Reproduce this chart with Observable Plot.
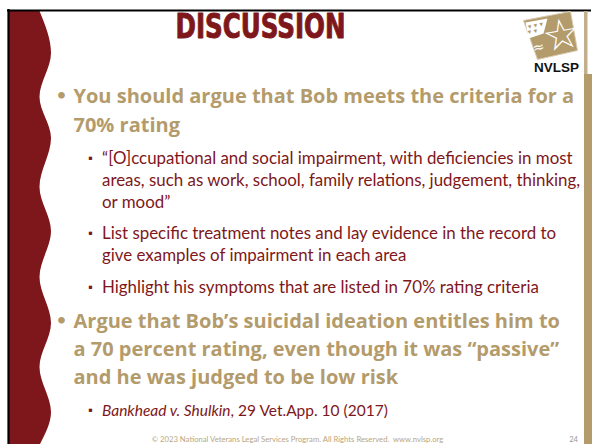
<!DOCTYPE html>
<html>
<head>
<meta charset="utf-8">
<script src="https://cdn.jsdelivr.net/npm/d3@7"></script>
<script src="https://cdn.jsdelivr.net/npm/@observablehq/plot@0.6"></script>
<style>
  html, body { margin: 0; padding: 0; background: #fff; }
  svg { display: block; }
</style>
</head>
<body>
<div id="chart"></div>
<script>
// ---- content ----
const titleText = "DISCUSSION";
const bullet1Lines = [
  "You should argue that Bob meets the criteria for a",
  "70% rating"
];
const sub1Lines = [
  "\u201C[O]ccupational and social impairment, with deficiencies in most",
  "areas, such as work, school, family relations, judgement, thinking,",
  "or mood\u201D"
];
const sub2Lines = [
  "List specific treatment notes and lay evidence in the record to",
  "give examples of impairment in each area"
];
const sub3Lines = [
  "Highlight his symptoms that are listed in 70% rating criteria"
];
const bullet2Lines = [
  "Argue that Bob\u2019s suicidal ideation entitles him to",
  "a 70 percent rating, even though it was \u201Cpassive\u201D",
  "and he was judged to be low risk"
];
const citeItalic = "Bankhead v. Shulkin";
const citeRest = ", 29 Vet.App. 10 (2017)";
const footerText = "\u00A9 2023 National Veterans Legal Services Program. All Rights Reserved.  www.nvlsp.org";
const pageNumber = "24";
const logoLabel = "NVLSP";

// ---- decorative shapes ----
const waveEdge = [[39.5,11],[51,53],[39.5,97],[51,138],[39.5,187],[51,231],[39.5,277],[51,323],[39.5,367],[51,412],[40,444]];
const logoCorners = [[523,20],[570,11],[577,50],[537,59],[523,20]];
const logoFlag = [[525,22],[547,18],[543,33],[528,38],[525,22]];

// ---- colours ----
const RED = "#7e171b";
const TAN = "#b39b6c";

// ---- layout of the text blocks ----
const blocks = [
  {lines: bullet1Lines, kind: "main", y0: 102, step: 29},
  {lines: sub1Lines, kind: "sub", y0: 163, step: 22},
  {lines: sub2Lines, kind: "sub", y0: 238, step: 22},
  {lines: sub3Lines, kind: "sub", y0: 292, step: 22},
  {lines: bullet2Lines, kind: "main", y0: 327, step: 28},
  {lines: [citeItalic + citeRest], kind: "cite", y0: 415, step: 22}
];
const rows = [];
const bullets = [];
for (const b of blocks) {
  b.lines.forEach((t, i) => rows.push({text: t, kind: b.kind, x: b.kind === "main" ? 73 : 101.5, y: b.y0 + i * b.step}));
  bullets.push({kind: b.kind, x: b.kind === "main" ? 61 : 90, y: b.y0});
}

const MAINFONT = "'Open Sans', Lato, sans-serif";
const SUBFONT = "Lato, 'Open Sans', sans-serif";

const plot = Plot.plot({
  width: 592,
  height: 444,
  margin: 0,
  x: {domain: [0, 592], range: [0, 592], axis: null},
  y: {domain: [0, 444], range: [0, 444], axis: null},
  style: {background: "#fff"},
  marks: [
    // left wavy band
    Plot.areaX(waveEdge, {y: d => d[1], x1: () => 9, x2: d => d[0], fill: RED, curve: "monotone-y"}),
    // frame lines
    Plot.ruleY([10], {x1: 7, x2: 591, stroke: "#000", strokeWidth: 2.2}),
    Plot.ruleX([8], {y1: 9, y2: 444, stroke: "#000", strokeWidth: 2.2}),
    // right bars
    Plot.rect([{x1: 584, x2: 587.5, y1: 11, y2: 74}], {x1: "x1", x2: "x2", y1: "y1", y2: "y2", fill: "#c2b08c"}),
    Plot.rect([{x1: 584, x2: 592, y1: 74, y2: 444}], {x1: "x1", x2: "x2", y1: "y1", y2: "y2", fill: TAN}),
    // logo
    Plot.line(logoCorners, {x: d => d[0], y: d => d[1], fill: TAN, stroke: "#d8cbb0", strokeWidth: 1}),
    Plot.line(logoFlag, {x: d => d[0], y: d => d[1], fill: "#fff", stroke: "none"}),
    Plot.text(["\u25BC\u25BC\u25BC"], {x: 535, y: 25, text: d => d, fontSize: 6, fill: TAN, rotate: -12}),
    Plot.text(["\u25BC\u25BC"], {x: 532, y: 31, text: d => d, fontSize: 6, fill: TAN, rotate: -12}),
    Plot.text(["\u2606"], {x: 561, y: 35, text: d => d, fontSize: 42, fill: "#fff", fontFamily: "DejaVu Sans", rotate: -10}),
    Plot.text(["\u2248"], {x: 538, y: 47, text: d => d, fontSize: 14, fill: "#fff", fontFamily: "DejaVu Sans", rotate: -12}),
    Plot.text([logoLabel], {x: 556, y: 71, text: d => d, fontSize: 13.5, fontWeight: "bold", fill: "#111", fontFamily: "'Liberation Sans', Arial, sans-serif", lineAnchor: "bottom"}),
    // title
    Plot.text([titleText], {x: 260, y: 37.5, text: d => d, className: "slide-title", fontSize: 33.5, fontWeight: "bold", fill: RED, stroke: RED, strokeWidth: 0.9, fontFamily: "'Liberation Sans Narrow', 'DejaVu Sans Condensed', 'DejaVu Sans', sans-serif", lineAnchor: "bottom"}),
    // bullets
    Plot.text(bullets.filter(d => d.kind === "main"), {x: "x", y: "y", text: () => "\u2022", fontSize: 18, fill: TAN, fontFamily: SUBFONT, lineAnchor: "bottom", dy: -2}),
    Plot.text(bullets.filter(d => d.kind !== "main"), {x: "x", y: "y", text: () => "\u25AA", fontSize: 6.5, fill: RED, fontFamily: "DejaVu Sans", lineAnchor: "bottom", dy: -4}),
    // body text
    Plot.text(rows.filter(d => d.kind === "main"), {x: "x", y: "y", text: "text", textAnchor: "start", lineAnchor: "bottom", fontSize: 20, fontWeight: "bold", fill: TAN, fontFamily: MAINFONT}),
    Plot.text(rows.filter(d => d.kind === "sub"), {x: "x", y: "y", text: "text", textAnchor: "start", lineAnchor: "bottom", fontSize: 16.9, fill: RED, fontFamily: SUBFONT}),
    Plot.text(rows.filter(d => d.kind === "cite"), {x: "x", y: "y", text: "text", className: "cite", textAnchor: "start", lineAnchor: "bottom", fontSize: 15.5, fill: RED, fontFamily: SUBFONT}),
    // footer
    Plot.text([footerText], {x: 297, y: 441, text: d => d, fontSize: 7.7, fill: "#b8a680", fontFamily: SUBFONT, lineAnchor: "bottom"}),
    Plot.text([pageNumber], {x: 573, y: 441, text: d => d, fontSize: 7.5, fill: "#999", fontFamily: SUBFONT, lineAnchor: "bottom"})
  ]
});

// title: stretch to the width it has in the reference
d3.select(plot).selectAll(".slide-title text")
  .attr("textLength", 170)
  .attr("lengthAdjust", "spacingAndGlyphs");
// citation: italic case name followed by the reporter reference
d3.select(plot).selectAll(".cite text").each(function () {
  const t = d3.select(this);
  t.text(null);
  t.append("tspan").attr("font-style", "italic").text(citeItalic);
  t.append("tspan").text(citeRest);
});

document.getElementById("chart").appendChild(plot);
</script>
</body>
</html>
